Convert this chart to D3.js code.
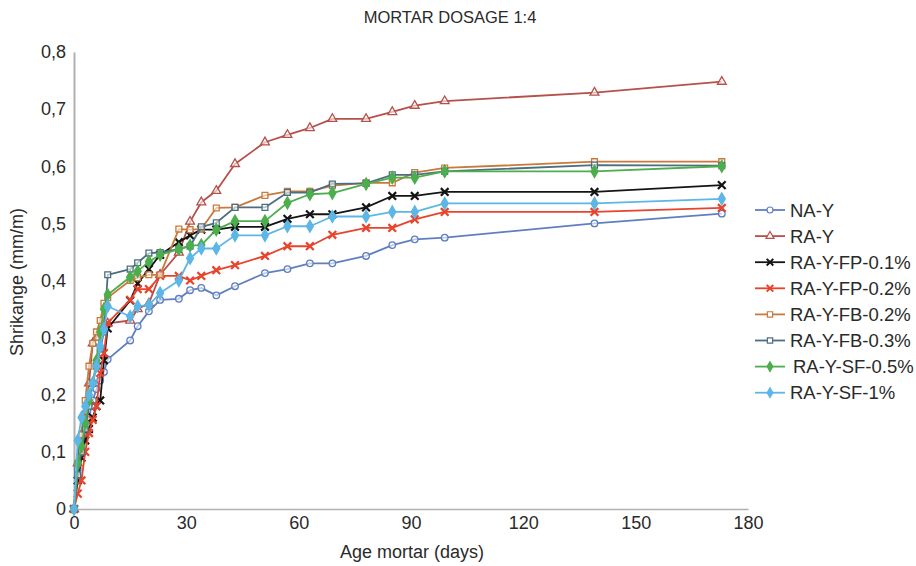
<!DOCTYPE html>
<html><head><meta charset="utf-8">
<script src="https://cdn.jsdelivr.net/npm/d3@7"></script>
<style>body{margin:0;background:#fff;}svg{display:block;font-family:"Liberation Sans",Arial,sans-serif;}</style>
</head><body><svg id="c" width="916" height="566"></svg>
<script>
const days = [0,1,2,3,4,5,6,7,8,9,15,17,20,23,28,31,34,38,43,51,57,63,69,78,85,91,99,139,173];
const naY      = [0,0.07,0.10,0.13,0.16,0.19,0.21,0.225,0.24,0.262,0.295,0.32,0.346,0.366,0.368,0.383,0.387,0.374,0.39,0.413,0.42,0.43,0.43,0.443,0.462,0.472,0.475,0.50,0.517];
const raY      = [0,0.08,0.13,0.17,0.22,0.29,0.30,0.31,0.32,0.325,0.33,0.35,0.36,0.41,0.449,0.503,0.537,0.557,0.604,0.642,0.655,0.667,0.683,0.683,0.695,0.706,0.714,0.729,0.748];
const raYFP01  = [0,0.05,0.09,0.12,0.14,0.16,0.18,0.19,0.26,0.316,0.365,0.395,0.42,0.445,0.467,0.479,0.489,0.489,0.494,0.494,0.508,0.516,0.516,0.528,0.548,0.548,0.555,0.555,0.567];
const raYFP02  = [0,0.027,0.05,0.10,0.133,0.156,0.18,0.238,0.273,0.326,0.366,0.385,0.385,0.408,0.408,0.40,0.408,0.418,0.427,0.443,0.46,0.46,0.48,0.492,0.492,0.507,0.52,0.52,0.527];
const raYFB02  = [0,0.08,0.13,0.19,0.25,0.29,0.31,0.33,0.36,0.37,0.40,0.405,0.41,0.41,0.49,0.489,0.49,0.527,0.528,0.549,0.556,0.556,0.566,0.571,0.571,0.589,0.597,0.608,0.608];
const raYFB03  = [0,0.06,0.10,0.14,0.18,0.22,0.25,0.28,0.31,0.41,0.42,0.431,0.448,0.449,0.455,0.46,0.494,0.501,0.528,0.528,0.554,0.554,0.569,0.57,0.585,0.585,0.591,0.602,0.601];
const raYSF05  = [0,0.08,0.11,0.15,0.19,0.22,0.26,0.31,0.35,0.375,0.406,0.416,0.433,0.445,0.455,0.461,0.462,0.489,0.504,0.504,0.536,0.551,0.553,0.569,0.58,0.58,0.591,0.591,0.60];
const raYSF1   = [0,0.12,0.16,0.18,0.20,0.22,0.25,0.285,0.315,0.355,0.337,0.355,0.357,0.378,0.40,0.439,0.456,0.456,0.479,0.479,0.495,0.495,0.512,0.512,0.52,0.52,0.535,0.535,0.543];
const seriesNames = ["NA-Y","RA-Y","RA-Y-FP-0.1%","RA-Y-FP-0.2%","RA-Y-FB-0.2%","RA-Y-FB-0.3%","RA-Y-SF-0.5%","RA-Y-SF-1%"];
const seriesValues = [naY, raY, raYFP01, raYFP02, raYFB02, raYFB03, raYSF05, raYSF1];
const xTicks = [0,30,60,90,120,150,180];
const yTicks = [0,0.1,0.2,0.3,0.4,0.5,0.6,0.7,0.8];
const colors = ["#5f7fc0","#b5504a","#141414","#e8432b","#c77a3b","#4e6e80","#4cae4c","#5cb6e6"];
const markers = ["circle","triangle","x","x","square","square","diamond","diamond"];
const hollow = [true,true,false,false,true,true,false,false];

const TXT = "#2a2a2a";
const svg = d3.select("#c");
const x = d3.scaleLinear().domain([0,180]).range([74,748]);
const y = d3.scaleLinear().domain([0,0.8]).range([509,52]);

svg.append("text").attr("x",450).attr("y",23).attr("text-anchor","middle")
  .attr("font-size",16.5).attr("fill",TXT).text("MORTAR DOSAGE 1:4");

// axes
const fmt = d => d3.format(".1f")(d).replace(".",",");
const yAxis = svg.append("g").attr("transform","translate(74,0)")
  .call(d3.axisLeft(y).tickValues(yTicks).tickSize(0).tickPadding(8).tickFormat(d => d===0 ? "0" : fmt(d)));
yAxis.select(".domain").attr("stroke","#b0b0b0").attr("stroke-width",2);
yAxis.selectAll("text").attr("font-size",18).attr("fill",TXT).attr("font-family","Liberation Sans, Arial, sans-serif");
const xAxis = svg.append("g").attr("transform","translate(0,509)")
  .call(d3.axisBottom(x).tickValues(xTicks).tickSize(0).tickPadding(7));
xAxis.select(".domain").attr("stroke","#b0b0b0").attr("stroke-width",1.5);
xAxis.selectAll("text").attr("font-size",18).attr("fill",TXT).attr("font-family","Liberation Sans, Arial, sans-serif");

svg.append("text").attr("x",412).attr("y",558).attr("text-anchor","middle")
  .attr("font-size",18).attr("fill",TXT).text("Age mortar (days)");
svg.append("text").attr("transform","translate(23,282) rotate(-90)").attr("text-anchor","middle")
  .attr("font-size",18).attr("fill",TXT).text("Shrikange (mm/m)");

function symPath(kind, size){
  const t = {circle:d3.symbolCircle, triangle:d3.symbolTriangle, x:d3.symbolX, square:d3.symbolSquare, diamond:d3.symbolDiamond}[kind];
  return d3.symbol().type(t).size(size)();
}
const line = d3.line().x((d,i)=>x(days[i])).y(d=>y(d));

seriesValues.forEach((vals,si)=>{
  const g = svg.append("g");
  g.append("path").datum(vals).attr("d",line).attr("fill","none")
    .attr("stroke",colors[si]).attr("stroke-width",1.8).attr("stroke-linejoin","round");
  const sz = markers[si]==="x" ? 40 : (markers[si]==="diamond" ? 42 : 34);
  g.selectAll("path.m").data(vals).join("path").attr("class","m")
    .attr("transform",(d,i)=>`translate(${x(days[i])},${y(d)})`)
    .attr("d",symPath(markers[si], sz))
    .attr("fill", hollow[si] ? "#fff" : colors[si])
    .attr("fill-opacity", hollow[si] ? 0.6 : 1)
    .attr("stroke",colors[si]).attr("stroke-width", markers[si]==="x" ? 2.2 : 1.3);
});

// legend
const leg = svg.append("g");
seriesNames.forEach((n,i)=>{
  const ly = 210 + i*26.1;
  leg.append("line").attr("x1",755).attr("x2",785).attr("y1",ly).attr("y2",ly)
    .attr("stroke",colors[i]).attr("stroke-width",1.8);
  leg.append("path").attr("transform",`translate(770,${ly})`).attr("d",symPath(markers[i], markers[i]==="x"?30:28))
    .attr("fill", hollow[i] ? "#fff" : colors[i]).attr("stroke",colors[i]).attr("stroke-width", markers[i]==="x"?2:1.2);
  leg.append("text").attr("x", i===6 ? 793 : 790).attr("y",ly+6.5).attr("font-size",18.5).attr("fill",TXT).text(n);
});
</script></body></html>
